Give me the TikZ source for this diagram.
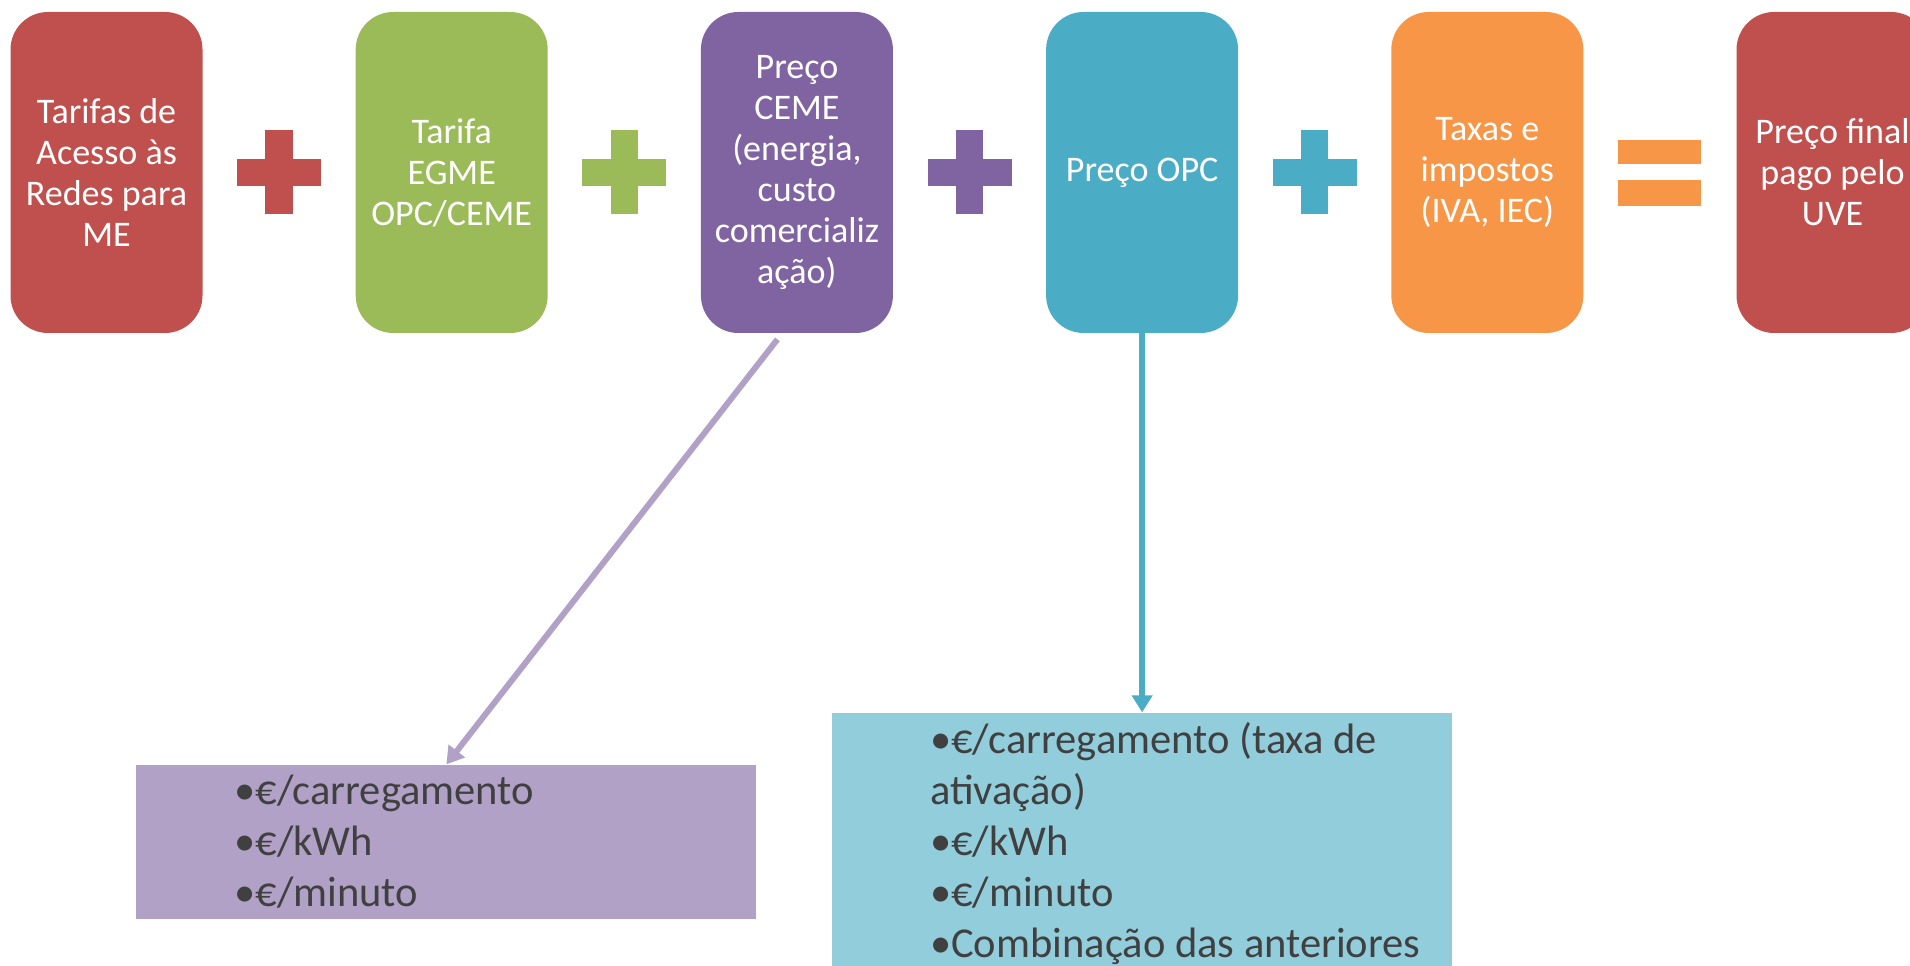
\documentclass[tikz,border=0pt]{standalone}
\usepackage{fontspec}
\setmainfont{Carlito}
\usetikzlibrary{arrows.meta,positioning,calc}

\definecolor{tred}{HTML}{C0504D}
\definecolor{tgreen}{HTML}{9BBB59}
\definecolor{tpurple}{HTML}{8064A2}
\definecolor{tteal}{HTML}{4BACC6}
\definecolor{torange}{HTML}{F79646}
\definecolor{tlilac}{HTML}{B2A1C7}
\definecolor{tsky}{HTML}{92CDDC}
\definecolor{tgray}{HTML}{404040}

\begin{document}
\begin{tikzpicture}[node distance=3.05cm,>={Triangle[length=0.34cm,width=0.4cm]},every node/.append style={align=center},
    part/.style={rounded corners=0.75cm, minimum width=3.84cm, minimum height=6.42cm, inner sep=2pt, text=white, font=\fontsize{20.5}{23.3}\selectfont},
    listbox/.style={minimum width=12.4cm, inner sep=0pt},
    items/.style={align=left, inner sep=0pt, anchor=west, text=tgray, font=\fontsize{24.2}{29}\selectfont},
    plussign/.pic={\fill (-0.84,-0.275) rectangle (0.84,0.275); \fill (-0.275,-0.84) rectangle (0.275,0.84);},
    eqsign/.pic={\fill (-0.83,0.17) rectangle (0.83,0.65); \fill (-0.83,-0.15) rectangle (0.83,-0.67);}]
        \useasboundingbox (0,0) rectangle (38.2,19.3);
        \clip (0,0) rectangle (38.2,19.3);
        % price components
        \node [part, fill=tred] (tar) at (2.13,15.85) {Tarifas de\\Acesso às\\Redes para\\ME};
        \node [part, fill=tgreen, right=of tar] (egme) {Tarifa\\EGME\\OPC/CEME};
        \node [part, fill=tpurple, right=of egme] (ceme) {Preço\\CEME\\(energia,\\custo\\comercializ\\ação)};
        \node [part, fill=tteal, right=of ceme] (opc) {Preço OPC};
        \node [part, fill=torange, right=of opc] (tax) {Taxas e\\impostos\\(IVA, IEC)};
        \node [part, fill=tred, right=of tax] (uve) {Preço final\\pago pelo\\UVE};
        \pic [tred] at ($(tar)!0.5!(egme)$) {plussign};
        \pic [tgreen] at ($(egme)!0.5!(ceme)$) {plussign};
        \pic [tpurple] at ($(ceme)!0.5!(opc)$) {plussign};
        \pic [tteal] at ($(opc)!0.5!(tax)$) {plussign};
        \pic [torange] at ($(tax)!0.5!(uve)$) {eqsign};
        % ways of charging
        \node [listbox, fill=tlilac, minimum height=3.08cm, below=8.62cm of ceme, xshift=-7.01cm] (cemelist) {};
        \node [items] (cemeitems) at ([xshift=1.96cm]cemelist.west) {•€/carregamento\\•€/kWh\\•€/minuto};
        \node [listbox, fill=tsky, minimum height=5.12cm, below=7.58cm of opc] (opclist) {};
        \node [items] (opcitems) at ([xshift=1.96cm, yshift=-0.06cm]opclist.west) {•€/carregamento (taxa de\\ativação)\\•€/kWh\\•€/minuto\\•Combinação das anteriores};
        \coordinate (cemefoot) at ([xshift=-0.39cm, yshift=-0.12cm]ceme.south);
        \path[->, line width=3.4pt] (cemefoot) edge [tlilac] (cemelist.north)
        (opc) edge [tteal] (opclist);
    \end{tikzpicture}
\end{document}
